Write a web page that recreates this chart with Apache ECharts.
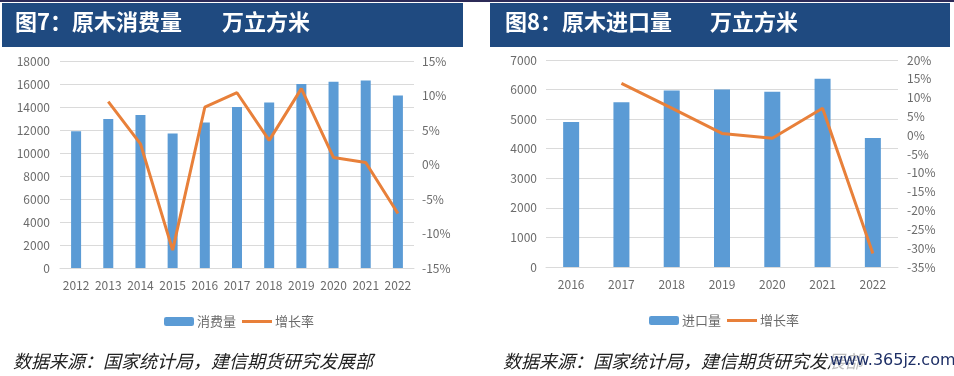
<!DOCTYPE html>
<html>
<head>
<meta charset="utf-8">
<script src="https://cdn.jsdelivr.net/npm/echarts@6/dist/echarts.min.js"></script>
<style>
  html, body { margin: 0; padding: 0; background: #ffffff; }
  #main { width: 954px; height: 376px; }
</style>
</head>
<body>
<div id="main"></div>
<script>
// 图7 原木消费量
var years1 = ['2012', '2013', '2014', '2015', '2016', '2017', '2018', '2019', '2020', '2021', '2022'];
var consumption = [11900, 12950, 13300, 11700, 12650, 14000, 14400, 16000, 16200, 16300, 15000];
var consumptionGrowth = [null, 9.1, 3.0, -12.4, 8.3, 10.4, 3.5, 11.0, 1.0, 0.3, -7.1];

// 图8 原木进口量
var years2 = ['2016', '2017', '2018', '2019', '2020', '2021', '2022'];
var imports = [4900, 5570, 5970, 6000, 5930, 6370, 4360];
var importGrowth = [null, 13.8, 7.2, 0.5, -0.8, 7.2, -31.4];

var barColor = '#5B9BD5';
var lineColor = '#E8803A';
var labelColor = '#6b6b6b';
var gridColor = '#DADADA';
var bannerColor = '#1F4A80';
var fontName = '"Noto Sans CJK SC", "Noto Sans", sans-serif';
var lineIcon = 'path://M0,0 L30,0 L30,3 L0,3 Z';

function catAxis(idx, data) {
    return {
        type: 'category',
        gridIndex: idx,
        data: data,
        axisTick: { show: false },
        axisLine: { lineStyle: { color: gridColor, width: 1 } },
        axisLabel: { color: labelColor, fontSize: 12, margin: 11, interval: 0 }
    };
}

function plain(v) { return String(v); }

var option = {
    animation: false,
    textStyle: { fontFamily: fontName },
    grid: [
        { left: 60, top: 61, width: 354, height: 207 },
        { left: 546, top: 60, width: 352, height: 207 }
    ],
    xAxis: [catAxis(0, years1), catAxis(1, years2)],
    yAxis: [
        {
            type: 'value', gridIndex: 0, min: 0, max: 18000, interval: 2000,
            axisLine: { show: false }, axisTick: { show: false },
            splitLine: { lineStyle: { color: gridColor } },
            axisLabel: { color: labelColor, fontSize: 12, margin: 10, formatter: plain }
        },
        {
            type: 'value', gridIndex: 0, position: 'right', min: -15, max: 15, interval: 5,
            axisLine: { show: false }, axisTick: { show: false }, splitLine: { show: false },
            axisLabel: { color: labelColor, fontSize: 12, margin: 8, formatter: '{value}%' }
        },
        {
            type: 'value', gridIndex: 1, min: 0, max: 7000, interval: 1000,
            axisLine: { show: false }, axisTick: { show: false },
            splitLine: { lineStyle: { color: gridColor } },
            axisLabel: { color: labelColor, fontSize: 12, margin: 9, formatter: plain }
        },
        {
            type: 'value', gridIndex: 1, position: 'right', min: -35, max: 20, interval: 5,
            axisLine: { show: false }, axisTick: { show: false }, splitLine: { show: false },
            axisLabel: { color: labelColor, fontSize: 12, margin: 9, formatter: '{value}%' }
        }
    ],
    legend: [
        {
            left: 159, top: 310, itemWidth: 30, itemHeight: 9, itemGap: 6,
            data: ['消费量', { name: '增长率', icon: lineIcon }],
            textStyle: { color: labelColor, fontSize: 13, padding: [0, 0, 0, -2] }
        },
        {
            left: 644, top: 309, itemWidth: 30, itemHeight: 9, itemGap: 6,
            data: ['进口量', { name: '增长率 ', icon: lineIcon }],
            textStyle: { color: labelColor, fontSize: 13, padding: [0, 0, 0, -2] }
        }
    ],
    series: [
        {
            name: '消费量', type: 'bar', xAxisIndex: 0, yAxisIndex: 0,
            barWidth: 10, itemStyle: { color: barColor }, data: consumption
        },
        {
            name: '增长率', type: 'line', xAxisIndex: 0, yAxisIndex: 1,
            symbol: 'none', lineStyle: { color: lineColor, width: 3 },
            itemStyle: { color: lineColor }, data: consumptionGrowth
        },
        {
            name: '进口量', type: 'bar', xAxisIndex: 1, yAxisIndex: 2,
            barWidth: 16, itemStyle: { color: barColor }, data: imports
        },
        {
            name: '增长率 ', type: 'line', xAxisIndex: 1, yAxisIndex: 3,
            symbol: 'none', lineStyle: { color: lineColor, width: 3 },
            itemStyle: { color: lineColor }, data: importGrowth
        }
    ],
    graphic: [
        { type: 'rect', shape: { x: 0, y: 0, width: 954, height: 2 }, style: { fill: '#2C2B58' } },
        { type: 'rect', shape: { x: 2, y: 3, width: 461, height: 44 }, style: { fill: bannerColor } },
        { type: 'rect', shape: { x: 490, y: 3, width: 460, height: 44 }, style: { fill: bannerColor } },
        {
            type: 'text', x: 15, y: 22,
            style: { text: '图7：原木消费量', fill: '#ffffff', font: 'bold 22px ' + fontName, verticalAlign: 'middle' }
        },
        {
            type: 'text', x: 222, y: 22,
            style: { text: '万立方米', fill: '#ffffff', font: 'bold 22px ' + fontName, verticalAlign: 'middle' }
        },
        {
            type: 'text', x: 505, y: 22,
            style: { text: '图8：原木进口量', fill: '#ffffff', font: 'bold 22px ' + fontName, verticalAlign: 'middle' }
        },
        {
            type: 'text', x: 710, y: 22,
            style: { text: '万立方米', fill: '#ffffff', font: 'bold 22px ' + fontName, verticalAlign: 'middle' }
        },
        {
            type: 'text', x: 13, y: 361,
            style: { text: '数据来源：国家统计局，建信期货研究发展部', fill: '#222222', font: 'italic 18px ' + fontName, verticalAlign: 'middle' }
        },
        {
            type: 'text', x: 503, y: 361,
            style: { text: '数据来源：国家统计局，建信期货研究发展部', fill: '#222222', font: 'italic 18px ' + fontName, verticalAlign: 'middle' }
        },
        { type: 'rect', shape: { x: 830, y: 351, width: 120, height: 20 }, style: { fill: 'rgba(255,255,255,0.7)' } },
        {
            type: 'text', x: 830, y: 361,
            style: { text: 'www.365jz.com', fill: '#1E2F66', font: '16px "DejaVu Sans", sans-serif', verticalAlign: 'middle' }
        }
    ]
};

var myChart = echarts.init(document.getElementById('main'));
myChart.setOption(option);
</script>
</body>
</html>
